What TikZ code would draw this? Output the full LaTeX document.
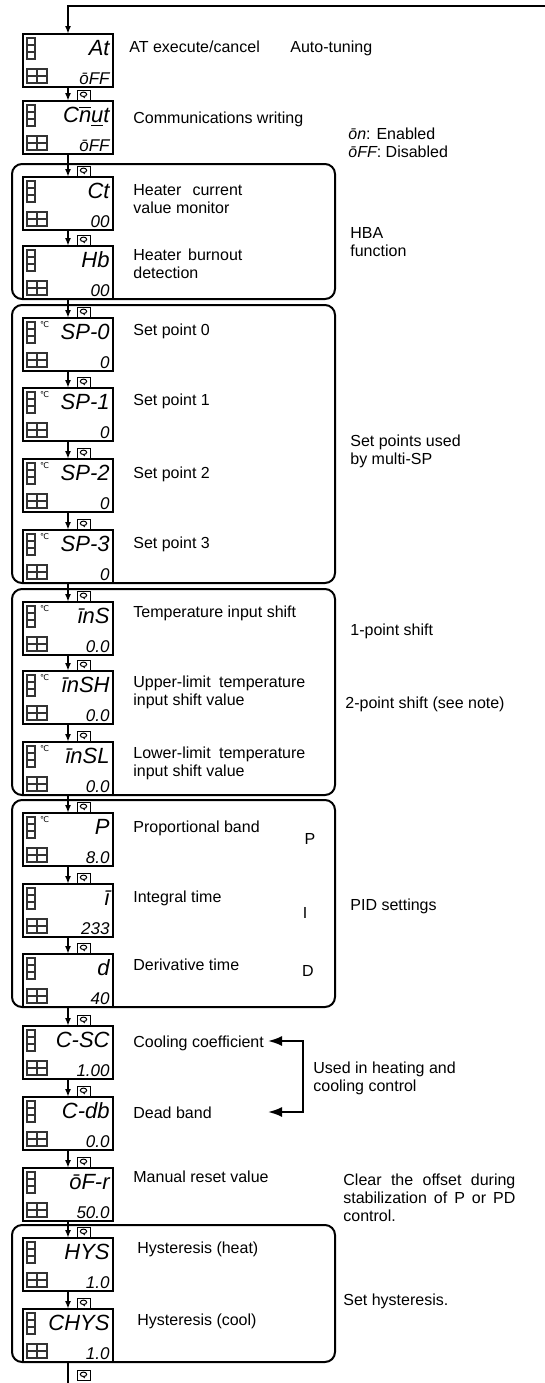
\documentclass[tikz,border=0pt]{standalone}
\usepackage{fontspec}
\setmainfont{Liberation Sans}
\newfontfamily\lcdfont{Liberation Sans}
\newfontfamily\degfont{DejaVu Sans}
\usepackage{tikz}
\usetikzlibrary{arrows.meta,calc}

\newcommand{\barover}[1]{$\overline{\mbox{#1}}$}
\newcommand{\barunder}[1]{$\underline{\mbox{#1}}$}
% one display: name, top edge, upper text, lower text
\newcommand{\lcdunit}[4]{%
    \node[lcdbox] (#1) at (68,{#2+26.5}) {};
    \foreach \k in {0,1,2}
        {\draw[cell] ($(#1.north west)+(4,{4+7*\k})$) rectangle ++(8,7);}
    \draw[cell] ($(#1.south west)+(4,-18)$) rectangle ++(20,14);
    \draw[cell] ($(#1.south west)+(14,-18)$) -- ++(0,14);
    \draw[cell] ($(#1.south west)+(4,-11)$) -- ++(20,0);
    \node[bigseg] at ($(#1.north east)+(-3,21)$) {#3};
    \node[smallseg] at ($(#1.south east)+(-3,-3)$) {#4};
}
\newcommand{\degmark}[1]{\node[degsign] at ($(#1.north west)+(21.5,7)$) {℃};}
\newcommand{\keyicon}[1]{\pic at ($(#1.north)+(15.5,-6)$) {loopkey};}

\begin{document}
\begin{tikzpicture}[x=0.5pt,y=-0.5pt,
    lcdbox/.style={rectangle, draw=black, line width=1.3pt, fill=white, minimum width=45pt, minimum height=26.5pt, inner sep=0pt, outer sep=0pt},
    cell/.style={draw=black!80, line width=0.55pt},
    bigseg/.style={anchor=base east, inner sep=0pt, font=\lcdfont\itshape\fontsize{11}{11}\selectfont},
    smallseg/.style={anchor=base east, inner sep=0pt, font=\lcdfont\itshape\fontsize{8.5}{8.5}\selectfont},
    degsign/.style={inner sep=0pt, font=\degfont\fontsize{4}{4}\selectfont},
    grp/.style={draw=black, line width=1pt, rounded corners=5pt},
    lbl/.style={anchor=base west, inner sep=0pt, align=left, font=\fontsize{8}{9}\selectfont}
    ]
    \tikzset{flow/.style={-{Latex[length=4pt,width=3pt]}, line width=0.8pt}}
    \tikzset{bigflow/.style={{Latex[length=7pt,width=5pt]}-{Latex[length=7pt,width=5pt]}, line width=1pt}}
    \tikzset{loopkey/.pic={
        \draw[line width=0.5pt, fill=white] (-6.5,-5) rectangle (6.5,5);
        \draw[line width=0.5pt] (0,-0.7) ellipse [x radius=3.2, y radius=2.2];
        \draw[line width=0.5pt] (0,1.5) -- (1.2,3);}}
    \useasboundingbox (0,0) rectangle (545,1383);
    %
    %groups
    %
    \draw[grp] (12,164) rectangle (335,299);
    \draw[grp] (12,305) rectangle (335,583);
    \draw[grp] (12,589) rectangle (335,795);
    \draw[grp] (12,800) rectangle (335,1007);
    \draw[grp] (12,1225) rectangle (335,1362);
    %
    %displays
    %
    \lcdunit{at}{34}{At}{ōFF}
    \lcdunit{cmwt}{101}{C\barover{n}\barunder{u}t}{ōFF}
    \lcdunit{ct}{177}{Ct}{00}
    \lcdunit{hb}{246}{Hb}{00}
    \lcdunit{sp0}{318}{SP-0}{0}
    \lcdunit{sp1}{388}{SP-1}{0}
    \lcdunit{sp2}{459}{SP-2}{0}
    \lcdunit{sp3}{530}{SP-3}{0}
    \lcdunit{ins}{602}{īnS}{0.0}
    \lcdunit{insh}{671}{īnSH}{0.0}
    \lcdunit{insl}{742}{īnSL}{0.0}
    \lcdunit{p}{813}{P}{8.0}
    \lcdunit{i}{884}{ī}{233}
    \lcdunit{d}{954}{d}{40}
    \lcdunit{csc}{1026}{C-SC}{1.00}
    \lcdunit{cdb}{1097}{C-db}{0.0}
    \lcdunit{ofr}{1168}{ōF-r}{50.0}
    \lcdunit{hys}{1238}{HYS}{1.0}
    \lcdunit{chys}{1309}{CHYS}{1.0}
    \foreach \n in {sp0,sp1,sp2,sp3,ins,insh,insl,p} {\degmark{\n}}
    %
    %edges
    %
    \coordinate (back) at (545,6);
    \draw[flow] (back) -| (at);
    \foreach \a/\b in {at/cmwt,cmwt/ct,ct/hb,hb/sp0,sp0/sp1,sp1/sp2,sp2/sp3,sp3/ins,ins/insh,insh/insl,insl/p,p/i,i/d,d/csc,csc/cdb,cdb/ofr,ofr/hys,hys/chys}
        {\draw[flow] (\a) -- (\b); \keyicon{\b}}
    \coordinate (exit) at (68,1383);
    \draw[line width=0.8pt] (chys) -- (exit);
    \pic at (83.5,1375) {loopkey};
    \coordinate (csctip) at (268,1041);
    \coordinate (cdbtip) at (268,1112);
    \coordinate (brk) at (303,1041);
    \draw[bigflow] (csctip) -- (brk) |- (cdbtip);
    %
    %labels (multi-line ones sit on their last line)
    %
    \node[lbl] (lat) at (129,52) {AT execute/cancel};
    \node[lbl] (lauto) at (290,52) {Auto-tuning};
    \node[lbl] (lcmwt) at (133,123) {Communications writing};
    \node[lbl] (lonoff) at (348,157) {{\lcdfont\itshape ōn}: Enabled\\{\lcdfont\itshape ōFF}: Disabled};
    \node[lbl] (lct) at (133,213) {\makebox[54.5pt][s]{Heater current}\\value monitor};
    \node[lbl] (lhb) at (133,278) {\makebox[54.5pt][s]{Heater burnout}\\detection};
    \node[lbl] (lhba) at (350,256) {HBA\\function};
    \node[lbl] (lsp0) at (133,335) {Set point 0};
    \node[lbl] (lsp1) at (133,405) {Set point 1};
    \node[lbl] (lsp2) at (133,478) {Set point 2};
    \node[lbl] (lsp3) at (133,548) {Set point 3};
    \node[lbl] (lmsp) at (350,464) {Set points used\\by multi-SP};
    \node[lbl] (lins) at (133,617) {Temperature input shift};
    \node[lbl] (linsh) at (133,705) {\makebox[86pt][s]{Upper-limit temperature}\\input shift value};
    \node[lbl] (linsl) at (133,776) {\makebox[86pt][s]{Lower-limit temperature}\\input shift value};
    \node[lbl] (lone) at (350,635) {1-point shift};
    \node[lbl] (ltwo) at (345,708) {2-point shift (see note)};
    \node[lbl] (lp) at (133,832) {Proportional band};
    \node[lbl] (li) at (133,902) {Integral time};
    \node[lbl] (ld) at (133,970) {Derivative time};
    \node[lbl, anchor=base] (pp) at (310,844) {P};
    \node[lbl, anchor=base] (ii) at (305,918) {I};
    \node[lbl, anchor=base] (dd) at (308,976) {D};
    \node[lbl] (lpid) at (350,910) {PID settings};
    \node[lbl] (lcsc) at (133,1047) {Cooling coefficient};
    \node[lbl] (lcdb) at (133,1118) {Dead band};
    \node[lbl] (lheat) at (313,1091) {Used in heating and\\cooling control};
    \node[lbl] (lofr) at (133,1182) {Manual reset value};
    \node[lbl] (lclear) at (343,1221) {\makebox[86pt][s]{Clear the offset during}\\\makebox[86pt][s]{stabilization of P or PD}\\control.};
    \node[lbl] (lhys) at (137,1253) {Hysteresis (heat)};
    \node[lbl] (lchys) at (137,1325) {Hysteresis (cool)};
    \node[lbl] (lsethys) at (343,1305) {Set hysteresis.};
\end{tikzpicture}
\end{document}
